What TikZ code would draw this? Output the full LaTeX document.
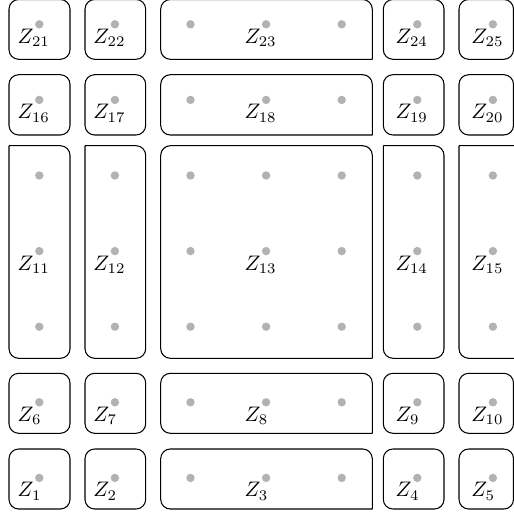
\documentclass[tikz,border=0pt]{standalone}
\tikzset{
  zdot/.style={circle, fill=gray!60, inner sep=0pt, minimum size=4pt},
  zlabel/.style={anchor=base west, inner sep=0pt},
  zbox/.style={draw=black, line width=0.5pt, rounded corners=4.6pt, line cap=square},
}
\begin{document}
\begin{tikzpicture}[x=0.476pt, y=-0.476pt]
\clip (0,0) rectangle (514,512);
% grid of dots
\foreach \i in {0,...,6}{
  \foreach \j in {0,...,6}{
    \node[zdot] (d\i\j) at ({39.3+75.6*\i},{24.3+75.6*\j}) {};
  }
}
% small boxes, all corners rounded
\foreach \xa/\xb in {9/70, 85/145.7, 383.3/444, 459/513.5}{
  \foreach \ya/\yb in {-0.5/59.3, 74.7/135, 373.3/433.3, 449/509}{
    \draw[zbox] (\xa,\ya) rectangle (\xb,\yb);
  }
}
% wide boxes, bottom-right corner square
\foreach \ya/\yb in {-0.5/59.3, 74.7/135, 145.7/358.3, 373.3/433.3, 449/509}{
  \draw[zbox] (372.3,\yb) -- (160.7,\yb) -- (160.7,\ya) -- (372.3,\ya) -- (372.3,\yb);
}
% tall boxes, top-left corner square
\foreach \xa/\xb in {9/70, 85/145.7, 383.3/444, 459/540}{
  \draw[zbox] (\xa,145.7) -- (\xb,145.7) -- (\xb,358.3) -- (\xa,358.3) -- (\xa,145.7);
}
% labels
\foreach \i/\c in {0/1,1/2,3/3,5/4,6/5}{
  \foreach \j/\r in {0/4,1/3,3/2,5/1,6/0}{
    \pgfmathtruncatemacro\n{5*\r+\c}
    \node[zlabel] (z\n) at ({39.3+75.6*\i-22},{24.3+75.6*\j+19}) {$Z_{\n}$};
  }
}
\end{tikzpicture}
\end{document}
